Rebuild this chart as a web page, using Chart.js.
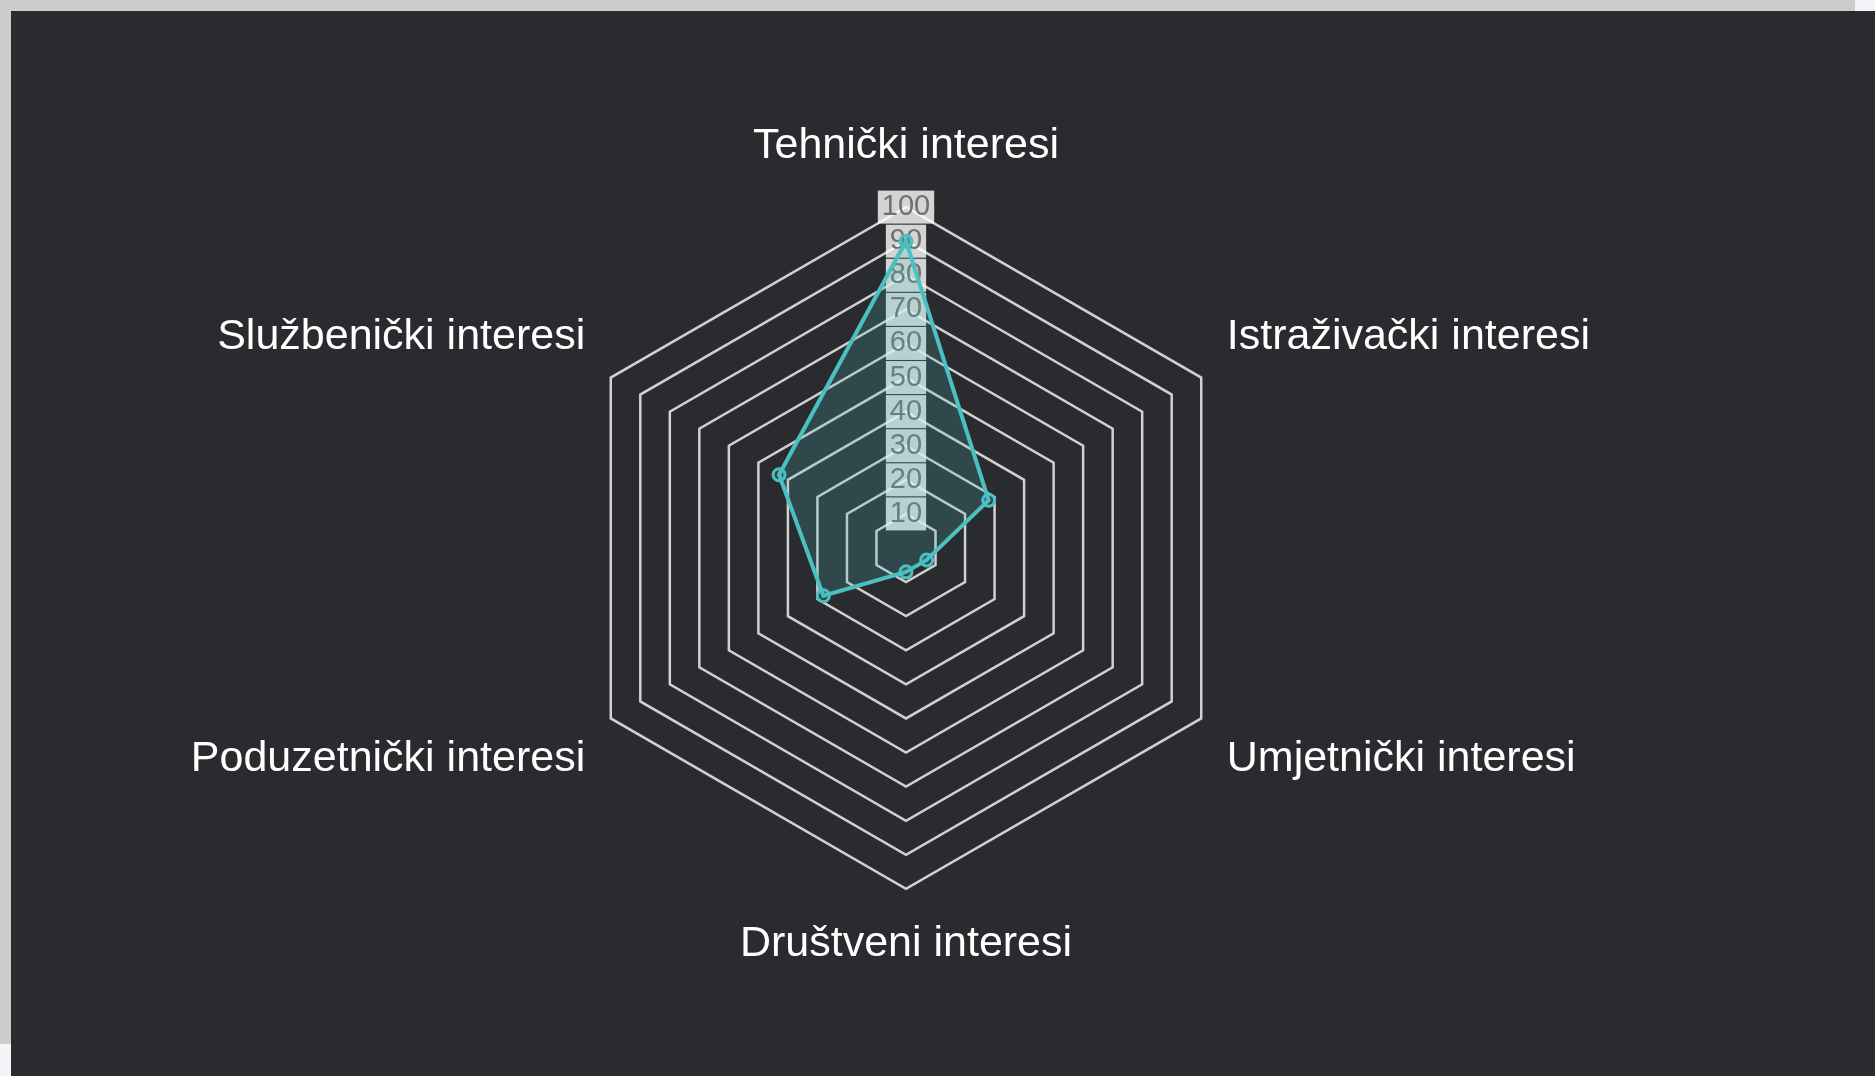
<!DOCTYPE html>
<html>
<head>
<meta charset="utf-8">
<script src="https://cdn.jsdelivr.net/npm/chart.js@4.4.1/dist/chart.umd.min.js"></script>
<style>
    html, body { margin: 0; padding: 0; }
    body { background: #f3f4f6; width: 1875px; height: 1076px; overflow: hidden; position: relative; }
    #frame { position: absolute; left: 0; top: 0; width: 1855px; height: 1044px; background: #cccccc; }
    #panel { position: absolute; left: 11px; top: 11px; width: 1864px; height: 1065px; background: #2a2b2f; }
    #chart-box { position: absolute; left: 11px; top: 118px; width: 1790px; height: 856px; }
</style>
</head>
<body>
<div id="frame"></div>
<div id="panel"></div>
<div id="chart-box"><canvas id="interestChart"></canvas></div>
<script>
const categories = [
    "Tehnički interesi",
    "Istraživački interesi",
    "Umjetnički interesi",
    "Društveni interesi",
    "Poduzetnički interesi",
    "Službenički interesi"
];
const scores = [90, 28, 7, 7, 28, 43];
const scaleMin = 0;
const scaleMax = 100;
const scaleStep = 10;

const teal = "rgba(75, 192, 192, 1)";
const tealFill = "rgba(75, 192, 192, 0.2)";
const fontFamily = "'Liberation Sans', Arial, sans-serif";

const ctx = document.getElementById("interestChart").getContext("2d");

const chart = new Chart(ctx, {
    type: "radar",
    data: {
        labels: categories,
        datasets: [{
            data: scores,
            borderColor: teal,
            backgroundColor: tealFill,
            borderWidth: 4,
            pointRadius: 6,
            pointBorderWidth: 3,
            pointBorderColor: teal,
            pointBackgroundColor: tealFill,
            fill: true
        }]
    },
    options: {
        responsive: true,
        maintainAspectRatio: false,
        animation: false,
        plugins: {
            legend: { display: false },
            tooltip: { enabled: false }
        },
        scales: {
            r: {
                min: scaleMin,
                max: scaleMax,
                ticks: {
                    stepSize: scaleStep,
                    color: "#707070",
                    font: { family: fontFamily, size: 29 },
                    backdropColor: "rgba(255, 255, 255, 0.8)",
                    backdropPadding: { x: 4, y: 2 }
                },
                grid: {
                    color: "#d0d0d0",
                    lineWidth: 2.5
                },
                angleLines: { display: false },
                pointLabels: {
                    color: "#ffffff",
                    // top label sits a bit further out than the others
                    padding: (c) => c.index === 0 ? 19 : 13,
                    font: { family: fontFamily, size: 43 }
                }
            }
        }
    }
});
</script>
</body>
</html>
